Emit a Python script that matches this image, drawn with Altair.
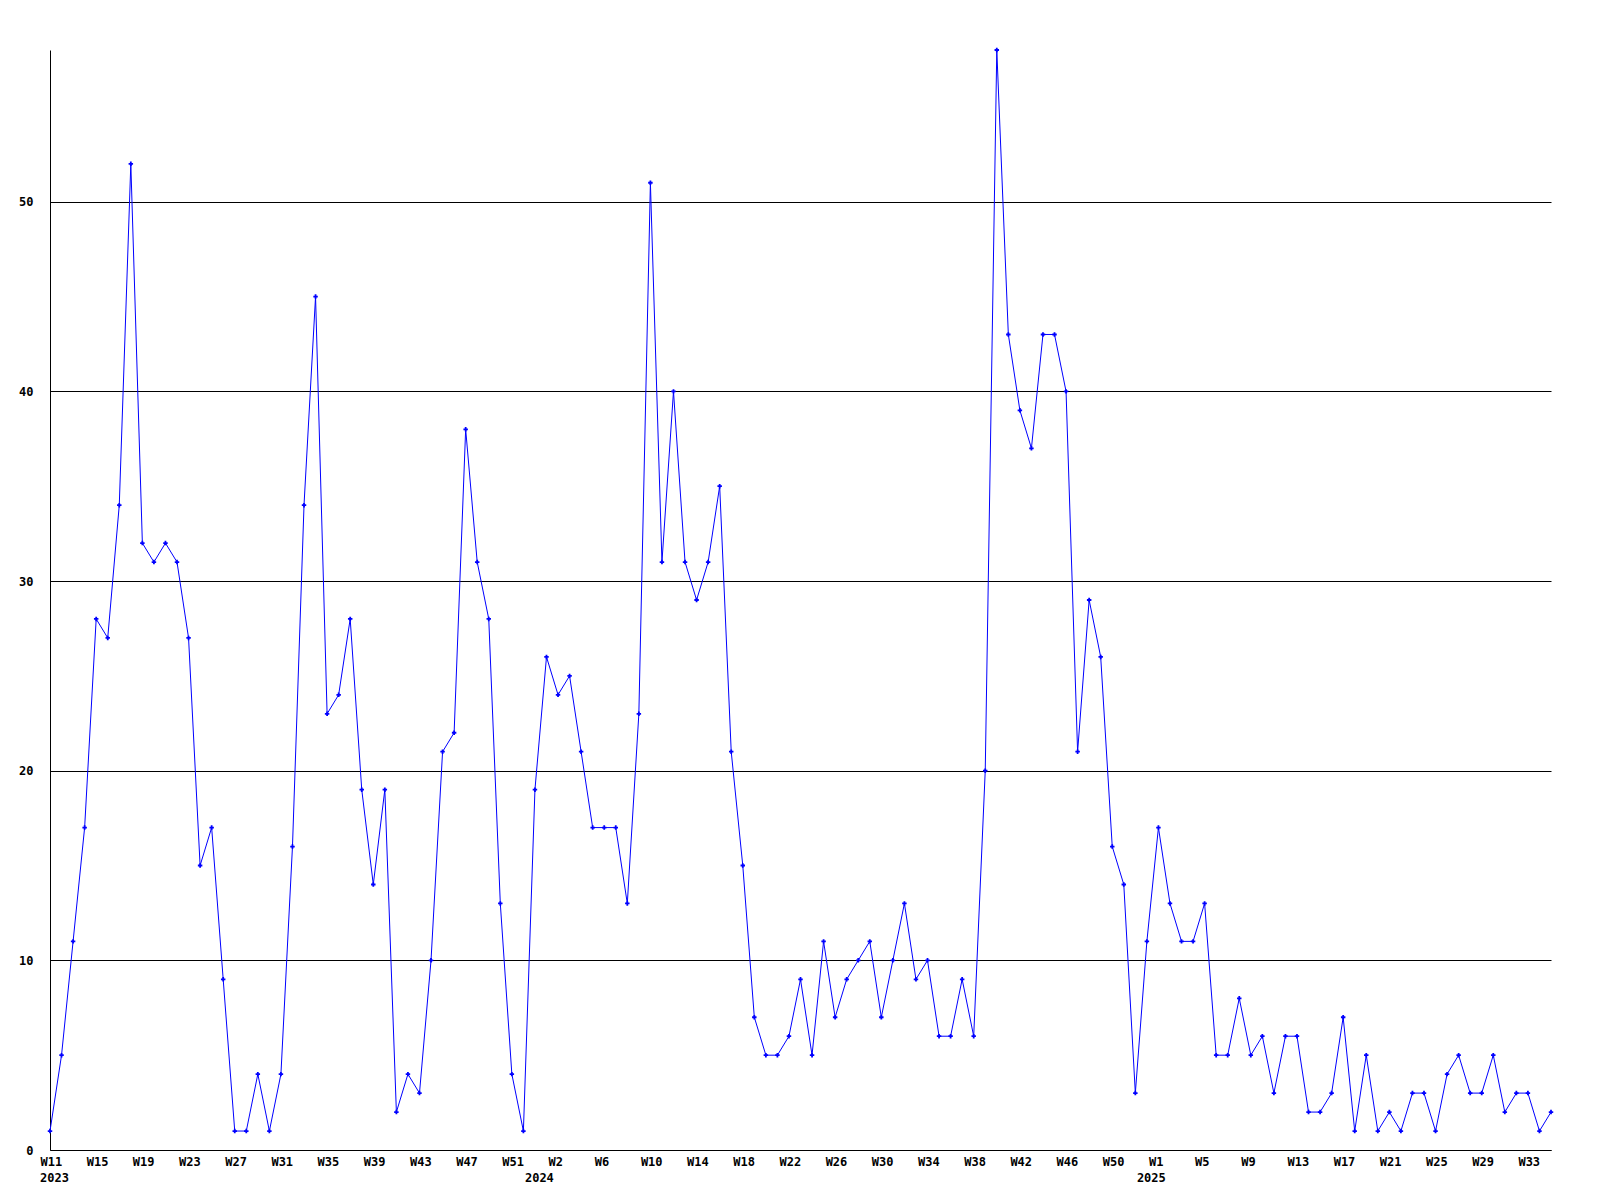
import altair as alt
import pandas as pd

# weekly counts, 2023 W11 .. 2025 W35
values = [1, 5, 11, 17, 28, 27, 34, 52, 32, 31,
          32, 31, 27, 15, 17, 9, 1, 1, 4, 1,
          4, 16, 34, 45, 23, 24, 28, 19, 14, 19,
          2, 4, 3, 10, 21, 22, 38, 31, 28, 13,
          4, 1, 19, 26, 24, 25, 21, 17, 17, 17,
          13, 23, 51, 31, 40, 31, 29, 31, 35, 21,
          15, 7, 5, 5, 6, 9, 5, 11, 7, 9,
          10, 11, 7, 10, 13, 9, 10, 6, 6, 9,
          6, 20, 58, 43, 39, 37, 43, 43, 40, 21,
          29, 26, 16, 14, 3, 11, 17, 13, 11, 11,
          13, 5, 5, 8, 5, 6, 3, 6, 6, 2,
          2, 3, 7, 1, 5, 1, 2, 1, 3, 3,
          1, 4, 5, 3, 3, 5, 2, 3, 3, 1,
          2]

tick_positions = list(range(0, 129, 4))
tick_labels = ["W11", "W15", "W19", "W23", "W27", "W31", "W35", "W39", "W43", "W47", "W51",
               "W2", "W6", "W10", "W14", "W18", "W22", "W26", "W30", "W34", "W38", "W42", "W46", "W50",
               "W1", "W5", "W9", "W13", "W17", "W21", "W25", "W29", "W33"]

year_labels = ["2023", "2024", "2025"]
year_positions = [0, 42, 95]

y_ticks = [0, 10, 20, 30, 40, 50]

df = pd.DataFrame({"idx": list(range(len(values))), "value": values})
years = pd.DataFrame({"idx": year_positions, "year": year_labels})

W = 1501
H = 1100
FONT = "DejaVu Sans Mono"

label_arr = "[" + ",".join("'" + t + "'" for t in tick_labels) + "]"

x_scale = alt.Scale(domain=[0, len(values) - 1], nice=False, zero=False)
y_scale = alt.Scale(domain=[0, max(values)], nice=False)

x_axis = alt.Axis(values=tick_positions, labelExpr=label_arr + "[round(datum.value/4)]",
                  grid=False, ticks=False, domainColor="black", domainWidth=1,
                  labelFont=FONT, labelFontSize=12, labelFontWeight="bold", labelColor="black",
                  labelAlign="left", labelOffset=-10, labelPadding=6, labelBaseline="top",
                  labelOverlap=False, labelFlush=False, title=None)
y_axis = alt.Axis(values=y_ticks, grid=True, gridColor="black", gridWidth=1, gridOpacity=1,
                  ticks=False, domainColor="black", domainWidth=1,
                  labelFont=FONT, labelFontSize=12, labelFontWeight="bold", labelColor="black",
                  labelPadding=17, title=None)

base = alt.Chart(df)

line = base.mark_line(color="#0000ff", strokeWidth=1, clip=False).encode(
    x=alt.X("idx:Q", scale=x_scale, axis=x_axis),
    y=alt.Y("value:Q", scale=y_scale, axis=y_axis),
)

pts = base.mark_point(shape="cross", size=20, filled=True, color="#0000ff", opacity=1).encode(
    x=alt.X("idx:Q", scale=x_scale),
    y=alt.Y("value:Q", scale=y_scale),
)

yr = alt.Chart(years).mark_text(font=FONT, fontSize=12, fontWeight="bold", color="black",
                                align="left", baseline="top", dx=-10).encode(
    x=alt.X("idx:Q", scale=x_scale),
    y=alt.value(H + 23),
    text="year:N",
)

chart = alt.layer(line, pts, yr).properties(
    width=W, height=H,
    autosize=alt.AutoSizeParams(type="none"),
    padding={"left": 42, "top": 42, "right": 30, "bottom": 60},
).configure(
    background="white",
    view=alt.ViewConfig(stroke="transparent", strokeWidth=0),
)

chart.save("out.html", embed_options={"renderer": "svg", "actions": False})
